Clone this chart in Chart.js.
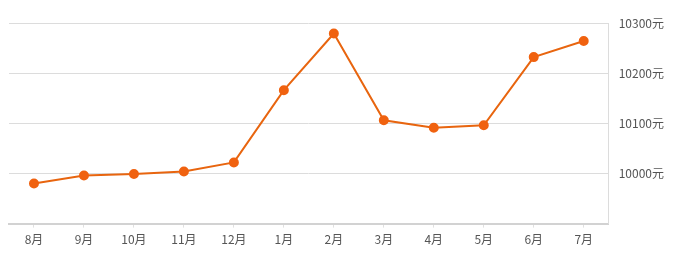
<!DOCTYPE html>
<html><head><meta charset="utf-8">
<script src="https://cdn.jsdelivr.net/npm/chart.js@4/dist/chart.umd.min.js"></script>
<style>html,body{margin:0;padding:0;background:#fff}#wrap{width:681px;height:259px}</style>
</head><body><div id="wrap"><canvas id="c" width="681" height="259"></canvas></div>
<script>
const categories = ['8月','9月','10月','11月','12月','1月','2月','3月','4月','5月','6月','7月'];
const prices = [9980, 9996, 9999, 10004, 10022, 10166, 10279, 10106, 10091, 10096, 10232, 10264];
const yTicks = [9900, 10000, 10100, 10200, 10300];
const yUnit = '元';

const font = {family: '"Noto Sans CJK SC", "Noto Sans", sans-serif', size: 12};
new Chart(document.getElementById('c'), {
  type: 'line',
  data: {labels: categories, datasets: [{
    data: prices,
    borderColor: '#E8650F',
    backgroundColor: '#F06210',
    pointBackgroundColor: '#F06210',
    pointBorderColor: '#F06210',
    borderWidth: 2,
    pointRadius: 4,
    tension: 0,
    fill: false
  }]},
  options: {
    responsive: false,
    animation: false,
    layout: {padding: {left: 9, top: 23, right: 7, bottom: 7}},
    plugins: {legend: {display: false}, tooltip: {enabled: false}},
    scales: {
      x: {
        offset: true,
        grid: {offset: false, drawOnChartArea: false, tickLength: 4, color: '#e0e0e0'},
        border: {color: '#d2d2d2', width: 2},
        ticks: {color: '#555', font: font, padding: 5, maxRotation: 0}
      },
      y: {
        position: 'right',
        min: yTicks[0], max: yTicks[yTicks.length - 1],
        afterBuildTicks: (axis) => { axis.ticks = yTicks.map(v => ({value: v})); },
        grid: {color: '#dcdcdc', drawTicks: false, lineWidth: 1},
        border: {color: '#dcdcdc', width: 1},
        ticks: {color: '#555', font: font, padding: 10,
          callback: (v) => v === yTicks[0] ? '' : v + yUnit}
      }
    }
  }
});
</script></body></html>
